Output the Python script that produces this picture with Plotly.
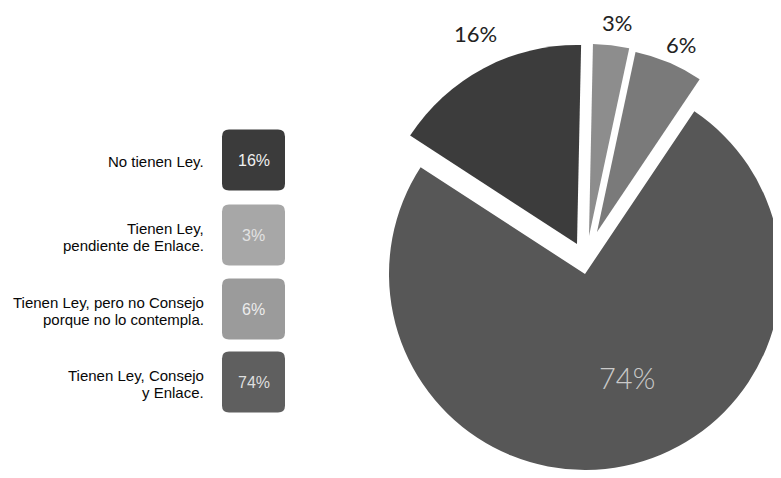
import plotly.graph_objects as go

# ---- data ----
categories = [
    "No tienen Ley.",
    "Tienen Ley,<br>pendiente de Enlace.",
    "Tienen Ley, pero no Consejo<br>porque no lo contempla.",
    "Tienen Ley, Consejo<br>y Enlace.",
]
values = [16, 3, 6, 74]
value_labels = [f"{v}%" for v in values]

# ---- style ----
W, H = 781, 478
OFF = 8  # default page margin of the html body
slice_colors = ["#3c3c3c", "#8d8d8d", "#7a7a7a", "#575757"]
box_colors = ["#3b3b3b", "#a7a7a7", "#9b9b9b", "#5f5f5f"]
box_text_colors = ["#f0f0f0", "#e2e2e2", "#ececec", "#dedede"]
# each slice drawn as its own exploded piece: (center x px, center y px, radius px)
pieces = [(577, 244, 199), (589, 236, 192), (597, 232, 184), (585, 274, 196)]
label_pos = [(476, 33), (617, 22), (681, 44), (627, 377)]
label_colors = ["#222222", "#222222", "#222222", "#cacaca"]
label_sizes = [22, 22, 22, 29]
label_weights = [400, 400, 400, 300]
box_x0, box_x1 = 222, 285
box_centers = [160, 235, 309, 382]
box_h = 61
line_gap = 17.5


def px(x):
    return (x - OFF) / (W - OFF)


def py(y):
    return 1 - (y - OFF) / (H - OFF)


fig = go.Figure()

order = [3, 0, 1, 2]
for i in order:
    cx, cy, r = pieces[i]
    cols = [slice_colors[j] if j == i else "rgba(0,0,0,0)" for j in range(len(values))]
    fig.add_trace(go.Pie(
        labels=[c.replace("<br>", " ") for c in categories],
        values=values,
        sort=False,
        direction="clockwise",
        rotation=-57,
        marker=dict(colors=cols, line=dict(width=0)),
        textinfo="none",
        hoverinfo="skip",
        showlegend=False,
        domain=dict(x=[max(0, px(cx - r)), min(1, px(cx + r))],
                    y=[max(0, py(cy + r)), min(1, py(cy - r))]),
    ))

# pie value labels
for i, t in enumerate(value_labels):
    x, y = label_pos[i]
    fig.add_annotation(
        x=px(x), y=py(y), xref="paper", yref="paper", text=t, showarrow=False,
        xanchor="center", yanchor="middle",
        font=dict(family="Lato", size=label_sizes[i], color=label_colors[i],
                  weight=label_weights[i]),
    )


def rrect(x0, y0, x1, y1, r):
    pts = [
        f"M {px(x0 + r)},{py(y0)}",
        f"L {px(x1 - r)},{py(y0)}",
        f"Q {px(x1)},{py(y0)} {px(x1)},{py(y0 + r)}",
        f"L {px(x1)},{py(y1 - r)}",
        f"Q {px(x1)},{py(y1)} {px(x1 - r)},{py(y1)}",
        f"L {px(x0 + r)},{py(y1)}",
        f"Q {px(x0)},{py(y1)} {px(x0)},{py(y1 - r)}",
        f"L {px(x0)},{py(y0 + r)}",
        f"Q {px(x0)},{py(y0)} {px(x0 + r)},{py(y0)}",
        "Z",
    ]
    return " ".join(pts)


# custom legend
for i, cat in enumerate(categories):
    yc = box_centers[i]
    fig.add_shape(
        type="path", xref="paper", yref="paper",
        path=rrect(box_x0, yc - box_h / 2, box_x1, yc + box_h / 2, 7),
        fillcolor=box_colors[i], line=dict(width=0),
    )
    fig.add_annotation(
        x=px((box_x0 + box_x1) / 2), y=py(yc), xref="paper", yref="paper",
        text=value_labels[i], showarrow=False, xanchor="center", yanchor="middle",
        font=dict(family="Liberation Sans", size=16, color=box_text_colors[i]),
    )
    lines = cat.split("<br>")
    n = len(lines)
    for k, line in enumerate(lines):
        yl = yc + 2 + (k - (n - 1) / 2) * line_gap
        fig.add_annotation(
            x=px(206), y=py(yl), xref="paper", yref="paper",
            text=line, showarrow=False, xanchor="right", yanchor="middle", align="right",
            font=dict(family="Liberation Sans", size=15, color="#080808"),
        )

fig.update_layout(
    width=W - OFF, height=H - OFF,
    margin=dict(l=0, r=0, t=0, b=0),
    paper_bgcolor="white", plot_bgcolor="white",
)

fig.write_html("out.html")
